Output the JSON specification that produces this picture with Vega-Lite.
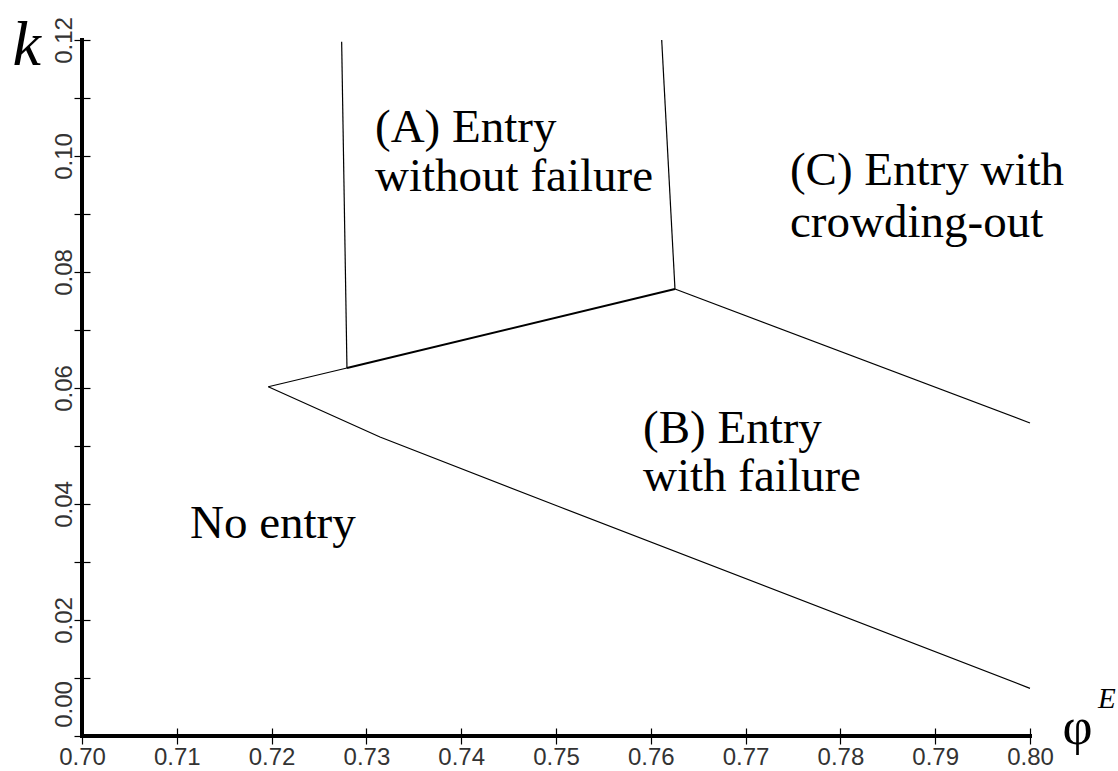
{
  "$schema": "https://vega.github.io/schema/vega-lite/v6.json",
  "width": 948,
  "height": 696,
  "autosize": {"type": "none"},
  "padding": {"left": 82, "top": 40, "right": 88, "bottom": 35},
  "background": "white",
  "config": {"view": {"stroke": null}},
  "datasets": {
    "boundaries": [
      {"seg": "A_left", "ord": 0, "x": 0.72739, "y": 0.1197},
      {"seg": "A_left", "ord": 1, "x": 0.72795, "y": 0.06345},
      {"seg": "A_right", "ord": 0, "x": 0.76115, "y": 0.12},
      {"seg": "A_right", "ord": 1, "x": 0.76255, "y": 0.07707},
      {"seg": "AB1", "ord": 0, "x": 0.71965, "y": 0.06022},
      {"seg": "AB1", "ord": 1, "x": 0.72795, "y": 0.06345},
      {"seg": "AB2", "ord": 0, "x": 0.72795, "y": 0.06345},
      {"seg": "AB2", "ord": 1, "x": 0.76255, "y": 0.07707},
      {"seg": "BC", "ord": 0, "x": 0.76255, "y": 0.07707},
      {"seg": "BC", "ord": 1, "x": 0.80, "y": 0.05397},
      {"seg": "NoEntry", "ord": 0, "x": 0.71965, "y": 0.06022},
      {"seg": "NoEntry", "ord": 1, "x": 0.73143, "y": 0.05155},
      {"seg": "NoEntry", "ord": 2, "x": 0.75042, "y": 0.03948},
      {"seg": "NoEntry", "ord": 3, "x": 0.80, "y": 0.00822}
    ],
    "frame": [
      {"side": "bottom", "x": 0.70, "y": 0, "x2": 0.80, "y2": 0},
      {"side": "left", "x": 0.70, "y": 0, "x2": 0.70, "y2": 0.12}
    ],
    "labels": [
      {"label": "(A) Entry", "x": 0.73091, "y": 0.10241},
      {"label": "without failure", "x": 0.73091, "y": 0.09397},
      {"label": "(C) Entry with", "x": 0.77468, "y": 0.09500},
      {"label": "crowding-out", "x": 0.77468, "y": 0.08603},
      {"label": "(B) Entry", "x": 0.75918, "y": 0.05052},
      {"label": "with failure", "x": 0.75918, "y": 0.04224},
      {"label": "No entry", "x": 0.71139, "y": 0.03414}
    ],
    "superscript": [
      {"label": "E", "x": 0.80, "y": 0}
    ]
  },
  "encoding": {
    "x": {
      "field": "x",
      "type": "quantitative",
      "scale": {"domain": [0.7, 0.8], "nice": false, "zero": false},
      "axis": {
        "values": [0.70, 0.71, 0.72, 0.73, 0.74, 0.75, 0.76, 0.77, 0.78, 0.79, 0.80],
        "format": ".2f",
        "offset": -8,
        "domain": false,
        "grid": false,
        "tickSize": 16,
        "tickWidth": 1.2,
        "tickColor": "black",
        "labelFont": "Liberation Sans",
        "labelFontSize": 24,
        "labelColor": "#333",
        "labelPadding": 1,
        "labelFlush": false,
        "labelOverlap": false,
        "title": "φ",
        "titleFont": "Liberation Serif",
        "titleFontSize": 52,
        "titleFontWeight": "normal",
        "titleColor": "black",
        "titleX": 980,
        "titleY": 15,
        "titleAlign": "left",
        "titleBaseline": "alphabetic"
      }
    },
    "y": {
      "field": "y",
      "type": "quantitative",
      "scale": {"domain": [0, 0.12], "nice": false, "zero": false},
      "axis": {
        "values": [0, 0.01, 0.02, 0.03, 0.04, 0.05, 0.06, 0.07, 0.08, 0.09, 0.10, 0.11, 0.12],
        "labelExpr": "round(datum.value * 100) % 2 == 0 ? format(datum.value, '.2f') : ''",
        "offset": -8,
        "domain": false,
        "grid": false,
        "tickSize": 16,
        "tickWidth": 1.2,
        "tickColor": "black",
        "labelAngle": -90,
        "labelAlign": "center",
        "labelBaseline": "alphabetic",
        "labelPadding": 3,
        "labelOffset": {"condition": {"test": "datum.value == 0", "value": -32}, "value": 0},
        "labelFont": "Liberation Sans",
        "labelFontSize": 24,
        "labelColor": "#333",
        "labelOverlap": false,
        "labelBound": false,
        "labelFlush": false,
        "title": "k",
        "titleFont": "Liberation Serif",
        "titleFontStyle": "italic",
        "titleFontWeight": "normal",
        "titleFontSize": 64,
        "titleColor": "black",
        "titleAngle": 0,
        "titleX": -78,
        "titleY": 24,
        "titleAlign": "left",
        "titleBaseline": "alphabetic"
      }
    }
  },
  "layer": [
    {
      "data": {"name": "boundaries"},
      "transform": [{"filter": "datum.seg != 'AB2'"}],
      "mark": {"type": "line", "color": "black", "strokeWidth": 1.2},
      "encoding": {
        "detail": {"field": "seg", "type": "nominal"},
        "order": {"field": "ord", "type": "quantitative"}
      }
    },
    {
      "data": {"name": "boundaries"},
      "transform": [{"filter": "datum.seg == 'AB2'"}],
      "mark": {"type": "line", "color": "black", "strokeWidth": 2},
      "encoding": {
        "detail": {"field": "seg", "type": "nominal"},
        "order": {"field": "ord", "type": "quantitative"}
      }
    },
    {
      "data": {"name": "labels"},
      "mark": {
        "type": "text",
        "font": "Liberation Serif",
        "fontSize": 47,
        "align": "left",
        "baseline": "alphabetic",
        "color": "black"
      },
      "encoding": {
        "text": {"field": "label", "type": "nominal"}
      }
    },
    {
      "data": {"name": "frame"},
      "mark": {"type": "rule", "color": "black", "strokeWidth": 4, "strokeCap": "square"},
      "encoding": {
        "x2": {"field": "x2"},
        "y2": {"field": "y2"}
      }
    },
    {
      "data": {"name": "superscript"},
      "mark": {
        "type": "text",
        "font": "Liberation Serif",
        "fontStyle": "italic",
        "fontSize": 29,
        "align": "left",
        "baseline": "alphabetic",
        "color": "black",
        "dx": 68,
        "dy": -28
      },
      "encoding": {
        "text": {"field": "label", "type": "nominal"}
      }
    }
  ]
}
